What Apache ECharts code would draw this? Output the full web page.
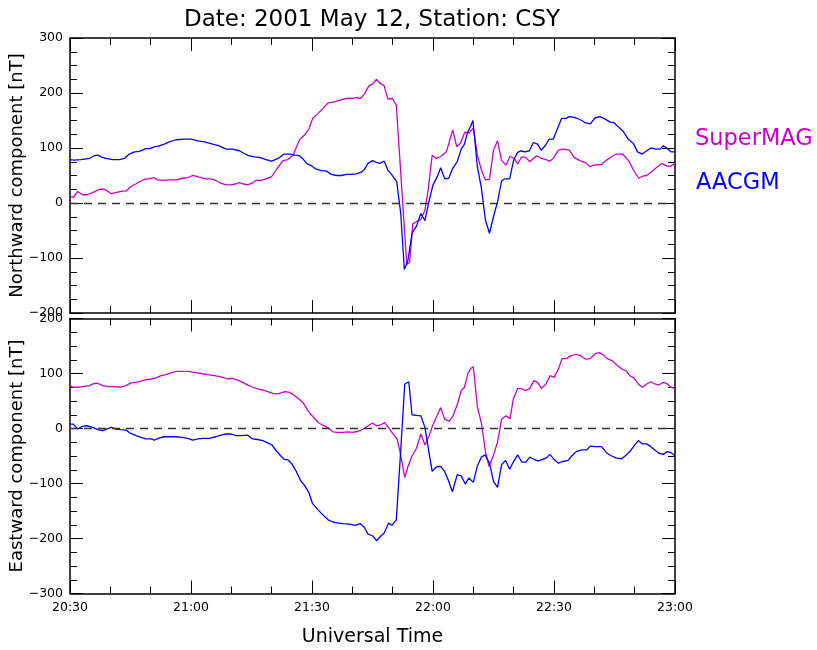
<!DOCTYPE html>
<html>
<head>
<meta charset="utf-8">
<script src="https://cdn.jsdelivr.net/npm/echarts@6/dist/echarts.min.js"></script>
<style>
  html, body { margin: 0; padding: 0; background: #fff; }
  #chart { width: 817px; height: 650px; }
</style>
</head>
<body>
<div id="chart"></div>
<script>
// Time axis: minutes after 20:30 UT, labelled every 30 minutes
const timeTicks = ['20:30', '21:00', '21:30', '22:00', '22:30', '23:00'];

// Northward component [nT], pairs of [minutes after 20:30, value]
const northSuperMAG = [[0,12],[0.8,10],[1.9,21],[3.1,15],[4.1,15],[5.6,19],[7.3,25],[8.5,25],[9.3,22],[10.2,17],[11.4,19],[12.6,21],[13.9,22],[15.1,30],[16.4,35],[17.6,40],[18.8,44],[19.8,44],[20.9,46],[21.7,42],[23,41],[24.6,42],[26.3,42],[27.9,45],[29.2,46],[30.4,50],[31.2,49],[32,47],[33.7,44],[35,44],[36.2,41],[37.4,36],[38.7,33],[39.9,33],[41.2,35],[42,37],[42.8,35],[44,33],[45.1,36],[46.1,41],[47.4,41],[48.6,44],[50,48],[51.1,60],[52.8,77],[54,79],[55.3,87],[56.9,115],[58.2,124],[59.2,134],[60.2,154],[61.5,163],[62.7,172],[64,182],[65.6,184],[66.9,187],[68.5,190],[70.2,190],[71,192],[72,190],[73,198],[74.1,213],[75,216],[76,225],[76.8,218],[77.9,213],[78.8,189],[79.9,190],[80.9,178],[83.5,-112],[84.2,-108],[85,-38],[85.9,-34],[87,-30],[88,-13],[88.8,24],[89.8,87],[90.8,81],[92,85],[93.3,93],[94,110],[94.9,133],[95.9,102],[96.9,110],[97.9,129],[98.9,127],[100,136],[101,87],[102,60],[103,42],[104,43],[105,96],[106,113],[107,77],[108.1,69],[109.1,85],[110.1,81],[111,71],[112,84],[113,83],[114,75],[115.7,86],[116.9,81],[118,79],[119,76],[120,83],[121.1,96],[122.3,98],[123.8,96],[125,83],[126.4,77],[127.9,73],[128.9,66],[129.9,69],[131.8,70],[133,78],[134.3,84],[135.5,89],[137,89],[138.5,77],[139.7,60],[141,45],[142,49],[143,50],[144.2,57],[145.5,65],[146.7,72],[148,67],[148.9,67],[150,72]];

const northAACGM = [[0,79],[1.1,78],[2.7,79],[4.8,81],[6,86],[6.9,87],[7.7,84],[8.9,81],[10.6,79],[12.2,79],[13.5,81],[14.7,89],[16,93],[17.2,94],[18.8,99],[19.8,99],[20.9,102],[22.1,104],[23.4,107],[24.6,111],[26.3,115],[28.3,116],[30,116],[31.7,113],[33.3,111],[35.4,107],[37,104],[38.7,98],[40.3,98],[42,95],[43.2,90],[44.3,86],[45.7,84],[47,83],[48.6,79],[50,76],[51.6,81],[53.1,89],[54.5,89],[55.7,87],[56.9,86],[57.9,79],[58.8,71],[59.8,68],[60.9,62],[62.3,59],[63.6,58],[64.8,52],[66,50],[67.3,50],[68.5,52],[69.8,52],[71,53],[72.2,56],[73,61],[73.9,72],[75,77],[76,74],[76.8,72],[77.9,76],[78.8,60],[79.7,52],[81,39],[82,-19],[82.9,-121],[83.8,-104],[84.8,-55],[85.9,-42],[87,-19],[88,-32],[88.9,0],[90,33],[91,47],[91.9,64],[92.9,44],[93.9,45],[94.9,63],[96,75],[97,98],[97.8,107],[98.5,127],[99.3,139],[99.9,150],[101,66],[102,27],[103,-31],[104,-55],[105,-25],[106,2],[107,40],[107.8,44],[109,44],[110,78],[111,92],[111.8,95],[112.8,93],[113.9,95],[114.9,110],[115.9,107],[116.8,96],[117.9,105],[118.8,116],[119.8,116],[120.9,136],[121.9,154],[123,154],[123.8,157],[125.4,155],[126.9,150],[127.7,146],[129,144],[130.2,155],[131.4,157],[132.6,153],[133.9,147],[134.9,146],[136,138],[137.2,130],[138.4,116],[139.7,108],[140.7,93],[141.9,89],[143,95],[144,100],[145.3,98],[146.3,98],[147.1,104],[148.1,99],[149,93],[150,93]];

// Eastward component [nT], pairs of [minutes after 20:30, value]
const eastSuperMAG = [[0,78],[0.8,75],[1.9,75],[3.1,76],[4.8,78],[6,82],[6.9,82],[8.1,78],[9.3,76],[11,76],[12.6,75],[13.9,78],[15.1,83],[16.4,84],[17.6,86],[18.8,89],[20.1,90],[21.3,92],[22.6,96],[23.8,98],[25,101],[26.3,104],[27.5,104],[29.2,104],[30.8,102],[32.5,100],[34.1,98],[35.8,96],[37.4,94],[39.1,90],[40.3,91],[41.6,88],[42.8,84],[44.1,79],[45.3,75],[46.5,72],[47.8,70],[49,67],[50.3,64],[51.7,63],[53.2,67],[54.2,66],[55.3,62],[56.5,55],[57.8,47],[59,32],[60.3,21],[61.5,11],[62.7,6],[64,1],[65.2,-6],[66.5,-7],[67.7,-7],[68.9,-6],[70.2,-7],[71.4,-5],[72.7,-1],[73.9,5],[75,10],[76,5],[76.9,6],[78,11],[79,1],[80,-9],[81.1,-19],[81.9,-45],[83,-89],[83.8,-69],[84.8,-50],[85.9,-36],[87,-10],[88,-30],[88.9,-16],[90,7],[91,23],[91.9,38],[92.9,17],[94,13],[94.9,22],[96,43],[97,69],[97.8,75],[98.7,101],[99.5,110],[100,112],[101,40],[102,10],[103,-42],[103.9,-69],[105,-48],[106,-25],[107,17],[108.1,23],[109.1,18],[109.9,53],[111,73],[112,72],[113,69],[114,73],[115,87],[115.9,84],[116.9,73],[118,81],[119,96],[120,93],[121.1,108],[122,127],[123.1,127],[124.1,132],[125.5,135],[126.4,133],[127.9,126],[129,127],[130.2,136],[131.2,138],[132.2,134],[133.2,127],[134.5,123],[135.5,116],[136.8,108],[137.9,105],[138.8,96],[139.8,92],[140.9,81],[141.9,75],[143,81],[144,85],[145,81],[146,79],[147.1,84],[148.1,81],[149,75],[150,73]];

const eastAACGM = [[0,8],[0.8,8],[1.9,-1],[3.1,4],[4.1,5],[5.6,2],[6.9,-2],[8.1,-4],[9.1,-1],[10.2,2],[11.4,-1],[12.6,-2],[13.9,-3],[15.1,-9],[16.4,-13],[17.6,-16],[18.8,-19],[20.1,-19],[20.9,-21],[22.2,-17],[23.4,-15],[25,-15],[26.3,-15],[27.9,-16],[29.2,-18],[30.4,-21],[31.7,-19],[32.9,-18],[34.5,-18],[36.2,-15],[37.4,-12],[38.7,-10],[39.9,-10],[41.2,-13],[42.4,-13],[44,-12],[45.3,-19],[46.5,-20],[47.8,-22],[49,-26],[50.1,-30],[51.2,-41],[52.4,-51],[53.1,-56],[54,-57],[54.9,-63],[56.1,-78],[57.2,-95],[58.2,-104],[59.2,-116],[60.1,-136],[61.5,-148],[62.7,-157],[64,-166],[65.2,-170],[66.5,-172],[67.7,-173],[69.3,-174],[70.7,-176],[72,-173],[73,-180],[73.9,-192],[75,-195],[76,-204],[77,-196],[77.9,-190],[79,-172],[79.8,-176],[80.9,-166],[82,-39],[83,81],[84,85],[84.8,25],[85.9,24],[87,23],[88,2],[88.9,-39],[89.8,-78],[90.8,-70],[91.9,-69],[92.9,-78],[93.9,-96],[94.8,-115],[96,-84],[97,-86],[98,-101],[98.9,-90],[100,-98],[101,-68],[102,-52],[102.9,-48],[104,-63],[105,-96],[106,-107],[107,-66],[108,-58],[109,-74],[109.9,-61],[111,-48],[112,-61],[113,-61],[114,-52],[115,-56],[116,-59],[117.2,-56],[118.2,-53],[119,-47],[120,-56],[121.1,-63],[122.1,-60],[123.5,-58],[124.4,-50],[125.5,-42],[126.9,-39],[128.1,-39],[129,-32],[130.2,-33],[131.8,-33],[133,-44],[134.3,-50],[135.5,-54],[136.8,-55],[137.9,-48],[138.8,-42],[139.8,-32],[140.9,-22],[141.9,-28],[143,-28],[144,-33],[145,-39],[146,-45],[147.1,-47],[148.1,-42],[149,-44],[150,-49]];

const FONT = 'DejaVu Sans';
const SUPERMAG_COLOR = '#cc00cc';
const AACGM_COLOR = '#0000ff';

const frameLine = { show: true, onZero: false, lineStyle: { color: '#000', width: 1.5 } };
const majorTick = { show: true, inside: true, length: 13, lineStyle: { color: '#000', width: 1 } };

function timeAxis(gridIndex, position, withLabels) {
  const axis = {
    type: 'value', gridIndex, position, min: 0, max: 150, interval: 30,
    axisLine: frameLine,
    axisTick: majorTick,
    minorTick: { show: true, splitNumber: 3, length: 7, lineStyle: { color: '#000', width: 1 } },
    splitLine: { show: false },
    minorSplitLine: { show: false },
    axisLabel: {
      show: withLabels, fontSize: 12.5, color: '#000', fontFamily: FONT, margin: 8,
      formatter: v => timeTicks[Math.round(v / 30)]
    }
  };
  if (withLabels) {
    axis.name = 'Universal Time';
    axis.nameLocation = 'middle';
    axis.nameGap = 34;
    axis.nameMoveOverlap = false;
    axis.nameTextStyle = { fontSize: 19, color: '#000', fontFamily: FONT };
  }
  return axis;
}

function fieldAxis(gridIndex, position, min, max, title) {
  const axis = {
    type: 'value', gridIndex, position, min, max, interval: 100,
    axisLine: frameLine,
    axisTick: majorTick,
    minorTick: { show: true, splitNumber: 4, length: 7, lineStyle: { color: '#000', width: 1 } },
    splitLine: { show: false },
    minorSplitLine: { show: false },
    axisLabel: {
      show: !!title, fontSize: 12.5, color: '#000', fontFamily: FONT, margin: 7,
      showMinLabel: true, showMaxLabel: true,
      formatter: v => (v < 0 ? '\u2212' + Math.abs(v) : String(v))
    }
  };
  if (title) {
    axis.name = title;
    axis.nameLocation = 'middle';
    axis.nameGap = 44;
    axis.nameMoveOverlap = false;
    axis.nameTextStyle = { fontSize: 18, color: '#000', fontFamily: FONT };
  }
  return axis;
}

const zeroLine = {
  silent: true, symbol: 'none', label: { show: false },
  lineStyle: { type: [8, 6], color: '#333', width: 1.3 },
  data: [{ yAxis: 0 }]
};

function trace(name, color, data, xi, yi, withZero) {
  const s = {
    name, type: 'line', data, xAxisIndex: xi, yAxisIndex: yi,
    showSymbol: false, symbol: 'none', animation: false,
    lineStyle: { color, width: 1.3 }, itemStyle: { color }
  };
  if (withZero) s.markLine = zeroLine;
  return s;
}

const chart = echarts.init(document.getElementById('chart'), null, { renderer: 'canvas' });
chart.setOption({
  backgroundColor: '#fff',
  animation: false,
  title: {
    text: 'Date: 2001 May 12, Station: CSY',
    left: 367, top: 4, textAlign: 'center',
    textStyle: { fontSize: 23, fontWeight: 'normal', color: '#000', fontFamily: FONT }
  },
  grid: [
    { left: 70, top: 38, width: 605, height: 275, outerBoundsMode: 'none', containLabel: false },
    { left: 70, top: 318.5, width: 605, height: 275, outerBoundsMode: 'none', containLabel: false }
  ],
  xAxis: [
    timeAxis(0, 'bottom', false),
    timeAxis(0, 'top', false),
    timeAxis(1, 'bottom', true),
    timeAxis(1, 'top', false)
  ],
  yAxis: [
    fieldAxis(0, 'left', -200, 300, 'Northward component [nT]'),
    fieldAxis(0, 'right', -200, 300, null),
    fieldAxis(1, 'left', -300, 200, 'Eastward component [nT]'),
    fieldAxis(1, 'right', -300, 200, null)
  ],
  series: [
    trace('SuperMAG', SUPERMAG_COLOR, northSuperMAG, 0, 0, true),
    trace('AACGM', AACGM_COLOR, northAACGM, 0, 0, false),
    trace('SuperMAG', SUPERMAG_COLOR, eastSuperMAG, 2, 2, true),
    trace('AACGM', AACGM_COLOR, eastAACGM, 2, 2, false)
  ],
  graphic: [
    { type: 'text', left: 695, top: 128, style: { text: 'SuperMAG', fill: SUPERMAG_COLOR, font: '22.5px "DejaVu Sans"' } },
    { type: 'text', left: 696, top: 172, style: { text: 'AACGM', fill: AACGM_COLOR, font: '22.5px "DejaVu Sans"' } }
  ]
});
</script>
</body>
</html>
